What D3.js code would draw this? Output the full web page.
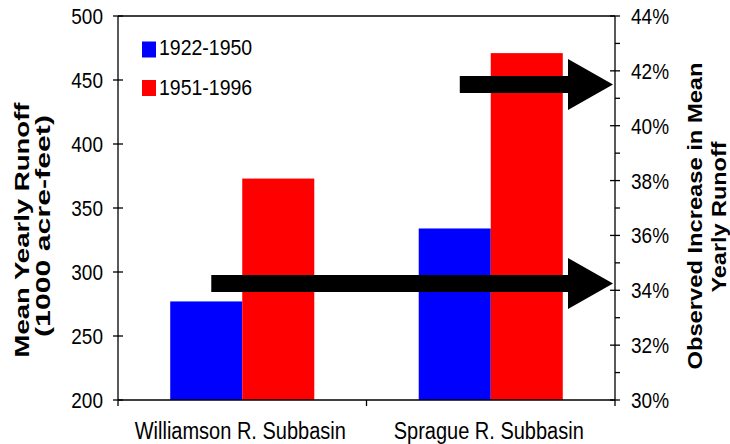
<!DOCTYPE html>
<html>
<head>
<meta charset="utf-8">
<script src="https://cdn.jsdelivr.net/npm/d3@7"></script>
<style>
  body { margin: 0; background: #fff; }
  svg text { font-family: "Liberation Sans", Arial, sans-serif; fill: #000; }
</style>
</head>
<body>
<svg id="chart" width="730" height="444"></svg>
<script>
// data
var categories = ['Williamson R. Subbasin', 'Sprague R. Subbasin'];
var series = ['1922-1950', '1951-1996'];
var colors = ['#0000ff', '#ff0000'];
var early = [277, 334];   // 1922-1950, 1000 acre-feet
var late = [373, 471];    // 1951-1996
var increase = [34.25, 41.5];  // observed increase, percent (arrow tips)
var leftTicks = [200, 250, 300, 350, 400, 450, 500];
var rightTicks = [30, 32, 34, 36, 38, 40, 42, 44];

var svg = d3.select('#chart');
var pLeft = 118, pRight = 615, pTop = 16, pBottom = 400;
var VS = 1.15;  // the original's text looks stretched vertically

var y = d3.scaleLinear().domain([200, 500]).range([pBottom, pTop]);
var yR = d3.scaleLinear().domain([30, 44]).range([pBottom, pTop]);
var x0 = d3.scaleBand().domain(categories).range([pLeft, pRight]);
var x1 = d3.scaleBand().domain(series).range([0, x0.bandwidth()]).paddingOuter(0.725);

var rows = categories.map(function (c, i) {
    return { cat: c, values: [early[i], late[i]], inc: increase[i] };
});

function htext(x, yy, str, size, anchor) {
    return svg.append('text')
        .attr('transform', 'translate(' + x + ',' + yy + ') scale(1,' + VS + ')')
        .attr('text-anchor', anchor || 'start')
        .style('font-size', size + 'px')
        .text(str);
}
function line(x1_, y1_, x2_, y2_) {
    svg.append('line').attr('x1', x1_).attr('y1', y1_).attr('x2', x2_).attr('y2', y2_)
        .attr('stroke', '#000').attr('stroke-width', 1.3);
}

// bars
rows.forEach(function (r) {
    svg.append('g').selectAll('rect')
        .data(r.values).enter()
        .append('rect')
        .attr('x', function (d, i) { return x0(r.cat) + x1(series[i]); })
        .attr('width', x1.bandwidth())
        .attr('y', function (d) { return y(d); })
        .attr('height', function (d) { return pBottom - y(d); })
        .attr('fill', function (d, i) { return colors[i]; });
});

// frame
line(pLeft, pTop, pRight, pTop);
line(pLeft, pBottom, pRight, pBottom);
line(pLeft, pTop, pLeft, pBottom + 6);
line(pRight, pTop, pRight, pBottom + 6);
categories.slice(1).forEach(function (c) { line(x0(c), pBottom, x0(c), pBottom + 6); });

// left axis
leftTicks.forEach(function (t) {
    line(pLeft - 5, y(t), pLeft + 5, y(t));
    htext(103, y(t) + 8, t, 19, 'end');
});

// right axis, major + minor ticks
rightTicks.forEach(function (t) {
    line(pRight - 5, yR(t), pRight + 5, yR(t));
    htext(631, yR(t) + 8, t + '%', 19);
});
d3.range(31, 44, 2).forEach(function (t) { line(pRight, yR(t), pRight + 5, yR(t)); });

// category labels
categories.forEach(function (c) {
    htext(x0(c) + x0.bandwidth() / 2 - 2, 439, c, 20, 'middle');
});

// axis titles (rotated)
function vtitle(x, yy, str, len) {
    svg.append('text')
        .attr('transform', 'translate(' + x + ',' + yy + ') rotate(-90)')
        .attr('text-anchor', 'middle')
        .attr('textLength', len)
        .attr('lengthAdjust', 'spacingAndGlyphs')
        .style('font-size', '21px').style('font-weight', 'bold')
        .text(str);
}
vtitle(29, 230, 'Mean Yearly Runoff', 255);
vtitle(50, 226, '(1000 acre-feet)', 222);
vtitle(702, 216, 'Observed Increase in Mean', 307);
vtitle(726, 217, 'Yearly Runoff', 151);

// arrows pointing at the right axis
var shaftH = 17, headH = 51, headL = 45;
svg.selectAll('path.arrow').data(rows).enter()
    .append('path')
    .attr('class', 'arrow')
    .attr('fill', '#000')
    .attr('d', function (r) {
        var cy = yR(r.inc);
        var xs = x0(r.cat) + x1(series[0]) + x1.bandwidth() * 0.57;
        var tip = pRight - 2, hb = tip - headL;
        return 'M' + xs + ',' + (cy - shaftH / 2) +
            'L' + hb + ',' + (cy - shaftH / 2) +
            'L' + hb + ',' + (cy - headH / 2) +
            'L' + tip + ',' + cy +
            'L' + hb + ',' + (cy + headH / 2) +
            'L' + hb + ',' + (cy + shaftH / 2) +
            'L' + xs + ',' + (cy + shaftH / 2) + 'Z';
    });

// legend
series.forEach(function (s, i) {
    svg.append('rect')
        .attr('x', 142).attr('y', 41.5 + i * 38.5)
        .attr('width', 14).attr('height', 16)
        .attr('fill', colors[i]);
    htext(159, 55 + i * 40, s, 19.5);
});
</script>
</body>
</html>
